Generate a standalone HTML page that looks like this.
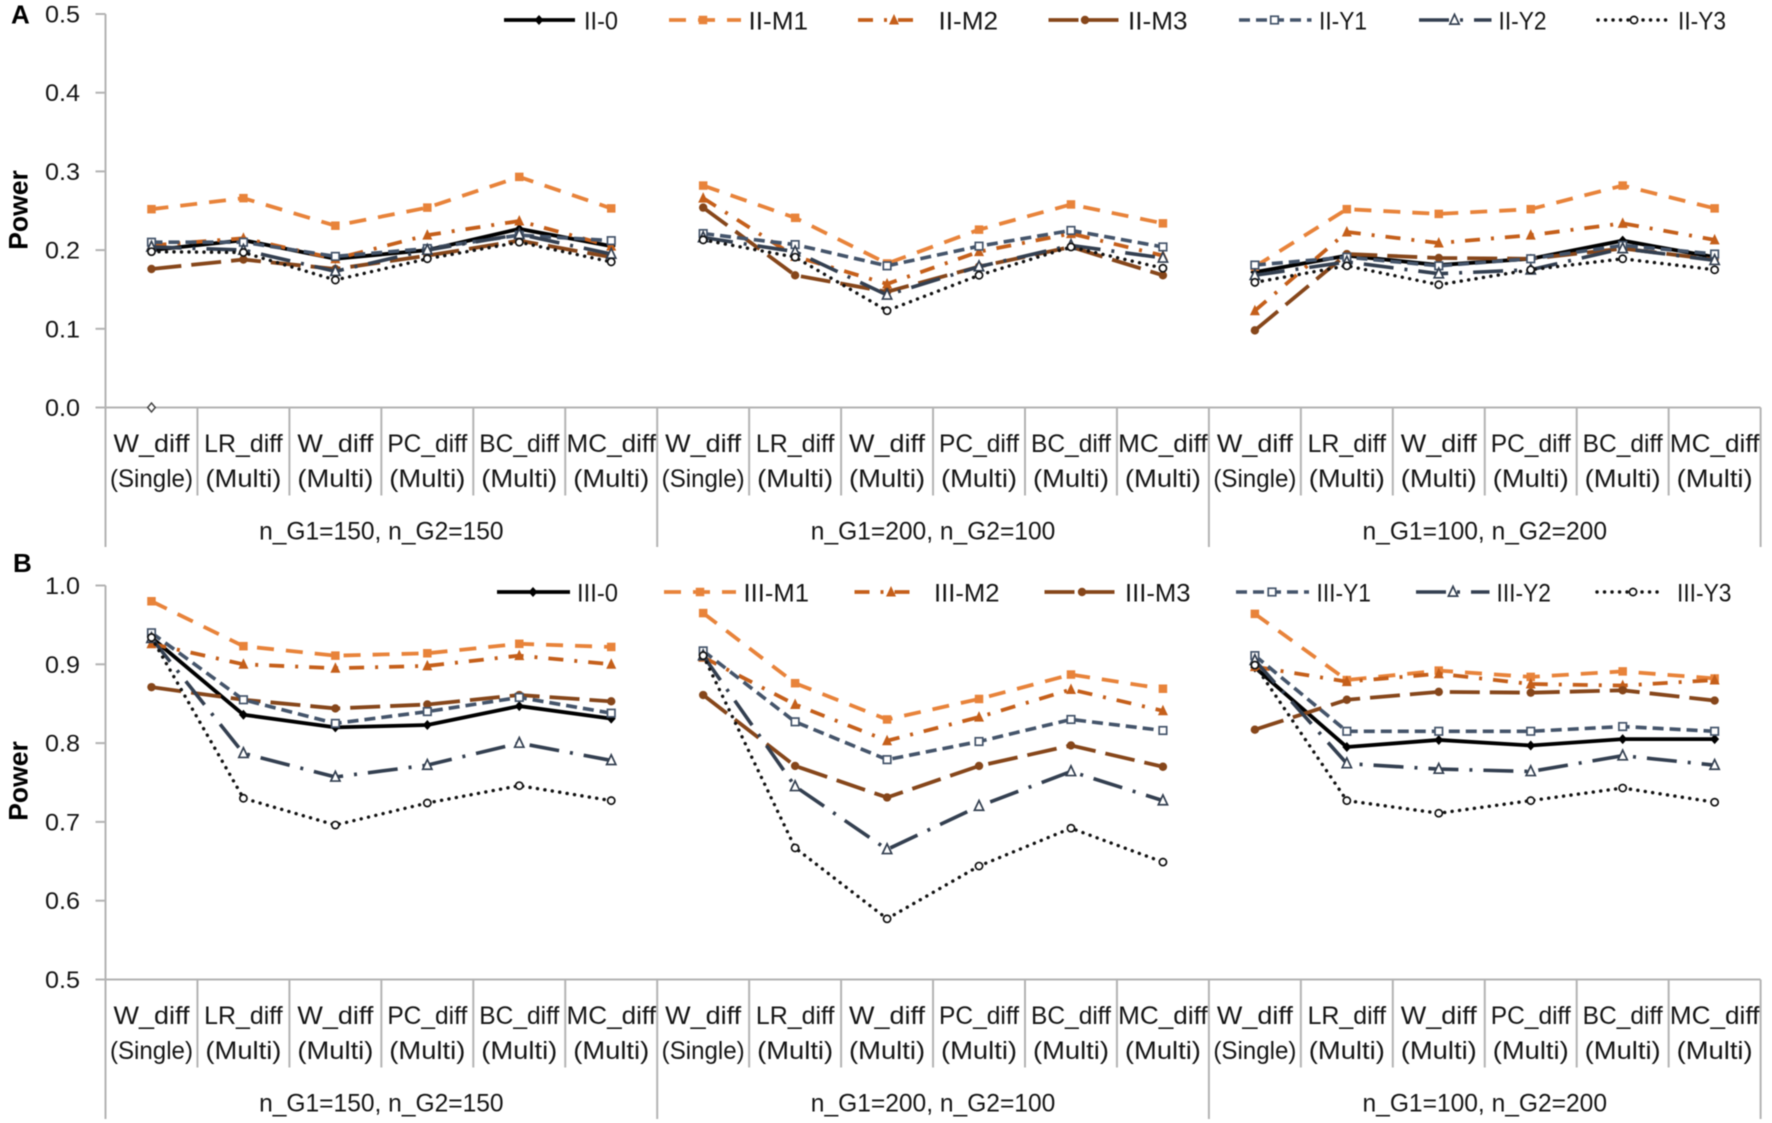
<!DOCTYPE html>
<html lang="en">
<head>
<meta charset="utf-8">
<title>Power by test statistic and group size</title>
<style>
html,body{margin:0;padding:0;background:#fff;width:1772px;height:1123px;overflow:hidden}
#figure{display:block;filter:blur(0.55px)}
text{font-family:"Liberation Sans",sans-serif;fill:#151515}
</style>
</head>
<body>
<svg id="figure" xmlns="http://www.w3.org/2000/svg" width="1772" height="1123" viewBox="0 0 1772 1123">
  <text x="11" y="23.5" font-size="26" font-weight="bold" style="fill:#000">A</text>
  <text x="13" y="572" font-size="26" font-weight="bold" style="fill:#000">B</text>
  <text transform="translate(27.5,210) rotate(-90)" text-anchor="middle" font-size="26.5" font-weight="bold" style="fill:#000">Power</text>
  <text transform="translate(27.5,781) rotate(-90)" text-anchor="middle" font-size="26.5" font-weight="bold" style="fill:#000">Power</text>
  <g id="panel-a"></g>
  <g id="panel-b"></g>
</svg>
<script>
// ---------- shared categories ----------
const categoryLine1 = ['W_diff','LR_diff','W_diff','PC_diff','BC_diff','MC_diff'];
const categoryLine2 = ['(Single)','(Multi)','(Multi)','(Multi)','(Multi)','(Multi)'];
const groupLabels = ['n_G1=150, n_G2=150','n_G1=200, n_G2=100','n_G1=100, n_G2=200'];

// ---------- panel A values ----------
const panelATicks = ['0.0','0.1','0.2','0.3','0.4','0.5'];
const panelADomain = [0, 0.5];
const ii0  = [.200,.2125,.189,.200,.227,.205, .214,null,null,null,null,null, .172,.193,.181,.189,.212,.191];
const iiM1 = [.252,.266,.231,.254,.293,.253, .282,.241,.183,.226,.258,.234, .179,.252,.246,.252,.282,.253];
const iiM2 = [.206,.215,.189,.219,.237,.205, .266,.192,.157,.198,.221,.193, .123,.223,.209,.219,.234,.213];
const iiM3 = [.176,.188,.176,.193,.212,.191, .254,.168,.147,.179,.204,.168, .098,.195,.190,.189,.202,.188];
const iiY1 = [.210,.210,.192,.202,.219,.212, .221,.207,.180,.205,.225,.204, .181,.191,.180,.189,.206,.195];
const iiY2 = [.204,.200,.173,.200,.220,.195, .216,.198,.143,.179,.206,.190, .168,.185,.170,.175,.202,.187];
const iiY3 = [.198,.197,.162,.189,.210,.185, .213,.191,.123,.168,.204,.177, .159,.180,.156,.175,.189,.175];
const iiStray = [0];

// ---------- panel B values ----------
const panelBTicks = ['0.5','0.6','0.7','0.8','0.9','1.0'];
const panelBDomain = [0.5, 1];
const iii0  = [.934,.836,.820,.823,.847,.831, .911,null,null,null,null,null, .896,.795,.804,.797,.805,.805];
const iiiM1 = [.980,.923,.911,.914,.926,.922, .965,.876,.830,.856,.887,.869, .964,.880,.892,.884,.891,.882];
const iiiM2 = [.926,.900,.895,.898,.911,.900, .909,.849,.803,.833,.868,.841, .897,.878,.888,.875,.873,.880];
const iiiM3 = [.871,.855,.844,.849,.861,.853, .861,.771,.731,.771,.797,.770, .817,.855,.865,.864,.867,.854];
const iiiY1 = [.940,.855,.825,.840,.858,.838, .917,.827,.779,.802,.830,.816, .911,.815,.815,.815,.821,.815];
const iiiY2 = [.933,.787,.757,.772,.800,.778, .911,.745,.665,.720,.764,.727, .905,.774,.767,.764,.784,.772];
const iiiY3 = [.934,.730,.696,.724,.746,.727, .911,.667,.577,.644,.692,.649, .899,.727,.711,.727,.743,.725];

// ---------- layout ----------
const SVGNS = 'http://www.w3.org/2000/svg';
const AXIS_LEFT = 105.5, CAT_W = 91.95, PER_GROUP = 6;
const AXIS_COLOR = '#b3b3b3';
const inkWidths = {'W_diff':76,'LR_diff':78.5,'PC_diff':80,'BC_diff':80,'MC_diff':89.5,'(Single)':83,'(Multi)':76,
  'n_G1=150, n_G2=150':244.5,'n_G1=200, n_G2=100':244.5,'n_G1=100, n_G2=200':244.5,
  'II-0':34,'II-M1':59.5,'II-M2':59.5,'II-M3':59.5,'II-Y1':48,'II-Y2':48,'II-Y3':48,
  'III-0':41,'III-M1':65.5,'III-M2':65.5,'III-M3':65.5,'III-Y1':54.5,'III-Y2':54.5,'III-Y3':54.5};
const styles = {
  zero:{color:'#000000',width:3.8,dash:null,cap:'butt',marker:'diamond'},
  m1:{color:'#e8833a',width:3.8,dash:'17 12',cap:'butt',marker:'square'},
  m2:{color:'#c55f1a',width:3.8,dash:'15 11 3 11',cap:'butt',marker:'triangle'},
  m3:{color:'#86461a',width:3.8,dash:'30 10',cap:'butt',marker:'circle'},
  y1:{color:'#44546a',width:3.6,dash:'11 6',cap:'butt',marker:'hollow-square'},
  y2:{color:'#333f50',width:3.6,dash:'30 11 3 11',cap:'butt',marker:'hollow-triangle'},
  y3:{color:'#111111',width:3.4,dash:'0.1 7.4',cap:'round',marker:'hollow-circle'}
};

function xAt(i){ return AXIS_LEFT + CAT_W * (i + 0.5); }
function yScale(panel, v){
  return panel.y0 + (v - panel.domain[0]) / (panel.domain[1] - panel.domain[0]) * (panel.yTop - panel.y0);
}
function make(tag, attrs, parent){
  const el = document.createElementNS(SVGNS, tag);
  for (const k in attrs) el.setAttribute(k, attrs[k]);
  parent.appendChild(el);
  return el;
}
function axisLine(parent, x1, y1, x2, y2, name){
  const el = make('line', {x1:x1, y1:y1, x2:x2, y2:y2, stroke:AXIS_COLOR, 'stroke-width':2}, parent);
  
  
  return el;
}
function label(parent, str, x, y, size, anchor, width, name){
  const el = make('text', {x:x, y:y, 'font-size':size, 'text-anchor':anchor}, parent);
  if (width) { el.setAttribute('textLength', width); el.setAttribute('lengthAdjust', 'spacingAndGlyphs'); }
  el.textContent = str;
  
  
  return el;
}
function marker(parent, kind, x, y, color, name){
  let el;
  const hollow = kind.indexOf('hollow') === 0;
  const fill = hollow ? '#ffffff' : color;
  const common = {fill:fill, stroke: hollow ? color : 'none', 'stroke-width': hollow ? 1.7 : 0};
  if (kind === 'diamond') {
    el = make('path', Object.assign({d:'M'+x+' '+(y-5)+'L'+(x+4.5)+' '+y+'L'+x+' '+(y+5)+'L'+(x-4.5)+' '+y+'Z'}, common), parent);
  } else if (kind === 'square' || kind === 'hollow-square') {
    const s = hollow ? 7.5 : 8.5;
    el = make('rect', Object.assign({x:x-s/2, y:y-s/2, width:s, height:s}, common), parent);
  } else if (kind === 'triangle' || kind === 'hollow-triangle') {
    const r = hollow ? 4.6 : 5;
    el = make('path', Object.assign({d:'M'+x+' '+(y-r-1)+'L'+(x+r)+' '+(y+r-0.5)+'L'+(x-r)+' '+(y+r-0.5)+'Z'}, common), parent);
  } else {
    el = make('circle', Object.assign({cx:x, cy:y, r: hollow ? 3.6 : 4.2}, common), parent);
  }
  
  
  return el;
}
function drawSeries(parent, panel, key, values, styleKey){
  const st = styles[styleKey];
  const g = make('g', {}, parent);
  
  
  let d = '';
  values.forEach(function(v, i){
    if (v === null) return;
    const prev = i > 0 ? values[i-1] : null;
    const start = prev === null || i % PER_GROUP === 0;
    d += (start ? 'M' : 'L') + xAt(i).toFixed(2) + ' ' + yScale(panel, v).toFixed(2);
  });
  const line = make('path', {d:d, fill:'none', stroke:st.color, 'stroke-width':st.width, 'stroke-linejoin':'round', 'stroke-linecap':st.cap}, g);
  if (st.dash) line.setAttribute('stroke-dasharray', st.dash);
  
  
  values.forEach(function(v, i){
    if (v === null) return;
    marker(g, st.marker, xAt(i), yScale(panel, v), st.color, 'point-' + key + '-' + i);
  });
}
function drawAxes(parent, panel){
  const zero = panel.y0;
  axisLine(parent, AXIS_LEFT, panel.yTop, AXIS_LEFT, zero + 139.5, panel.id + '-y-axis');
  axisLine(parent, 95.5, zero, 1760.6, zero, panel.id + '-x-axis');
  panel.ticks.forEach(function(t){
    const v = parseFloat(t), y = yScale(panel, v);
    axisLine(parent, 95.5, y, AXIS_LEFT, y, panel.id + '-y-tick-' + t);
    label(parent, t, 45, y + 8.5, 24, 'start', 35, panel.id + '-y-tick-label-' + t);
  });
  groupLabels.forEach(function(gl, g){
    for (let c = 0; c < PER_GROUP; c++) {
      const i = g * PER_GROUP + c, right = AXIS_LEFT + CAT_W * (i + 1);
      const isGroupEnd = c === PER_GROUP - 1;
      axisLine(parent, right, zero, right, zero + (isGroupEnd ? 139.5 : 88), panel.id + (isGroupEnd ? '-group-divider-' : '-category-divider-') + i);
      label(parent, categoryLine1[c], xAt(i), zero + 44.5, 25, 'middle', inkWidths[categoryLine1[c]], panel.id + '-category-label-' + i);
      label(parent, categoryLine2[c], xAt(i), zero + 79.5, 25, 'middle', inkWidths[categoryLine2[c]], panel.id + '-category-sublabel-' + i);
    }
    label(parent, gl, AXIS_LEFT + CAT_W * PER_GROUP * (g + 0.5), zero + 132, 25, 'middle', inkWidths[gl], panel.id + '-group-label-' + g);
  });
}
function legendEntry(parent, y, text, styleKey, x0, x1, xm, xt){
  const st = styles[styleKey];
  const g = make('g', {}, parent);
  
  
  const sw = make('path', {d:'M'+x0+' '+y+'L'+x1+' '+y, fill:'none', stroke:st.color, 'stroke-width':st.width, 'stroke-linecap':st.cap}, g);
  if (st.dash) sw.setAttribute('stroke-dasharray', st.dash);
  
  
  marker(g, st.marker, xm, y, st.color, 'legend-marker-' + text.toLowerCase());
  label(g, text, xt, y + 9.5, 25, 'start', inkWidths[text], 'legend-label-' + text.toLowerCase());
}

// ---------- panel A ----------
const panelA = {id:'panel-a', y0:407.5, yTop:14, domain:panelADomain, ticks:panelATicks};
const gA = document.getElementById('panel-a');
drawAxes(gA, panelA);
drawSeries(gA, panelA, 'ii-0', ii0, 'zero');
drawSeries(gA, panelA, 'ii-m1', iiM1, 'm1');
drawSeries(gA, panelA, 'ii-m2', iiM2, 'm2');
drawSeries(gA, panelA, 'ii-m3', iiM3, 'm3');
drawSeries(gA, panelA, 'ii-y1', iiY1, 'y1');
drawSeries(gA, panelA, 'ii-y2', iiY2, 'y2');
drawSeries(gA, panelA, 'ii-y3', iiY3, 'y3');
iiStray.forEach(function(v, i){
  const s = make('path', {d:'M'+xAt(i)+' '+(yScale(panelA,v)-4.5)+'L'+(xAt(i)+3.8)+' '+yScale(panelA,v)+'L'+xAt(i)+' '+(yScale(panelA,v)+4.5)+'L'+(xAt(i)-3.8)+' '+yScale(panelA,v)+'Z', fill:'#fff', stroke:'#444', 'stroke-width':1.5}, gA);
  
  
});
legendEntry(gA, 20, 'II-0', 'zero', 504, 575, 539, 584);
legendEntry(gA, 20, 'II-M1', 'm1', 669, 741, 703, 748.5);
legendEntry(gA, 20, 'II-M2', 'm2', 858, 918, 894, 938.5);
legendEntry(gA, 20, 'II-M3', 'm3', 1048.5, 1121, 1085, 1128);
legendEntry(gA, 20, 'II-Y1', 'y1', 1239, 1311.5, 1274.5, 1319);
legendEntry(gA, 20, 'II-Y2', 'y2', 1419, 1491.5, 1454.5, 1498.5);
legendEntry(gA, 20, 'II-Y3', 'y3', 1598, 1666, 1634, 1678);

// ---------- panel B ----------
const panelB = {id:'panel-b', y0:979.5, yTop:585.5, domain:panelBDomain, ticks:panelBTicks};
const gB = document.getElementById('panel-b');
drawAxes(gB, panelB);
drawSeries(gB, panelB, 'iii-0', iii0, 'zero');
drawSeries(gB, panelB, 'iii-m1', iiiM1, 'm1');
drawSeries(gB, panelB, 'iii-m2', iiiM2, 'm2');
drawSeries(gB, panelB, 'iii-m3', iiiM3, 'm3');
drawSeries(gB, panelB, 'iii-y1', iiiY1, 'y1');
drawSeries(gB, panelB, 'iii-y2', iiiY2, 'y2');
drawSeries(gB, panelB, 'iii-y3', iiiY3, 'y3');
legendEntry(gB, 592, 'III-0', 'zero', 497, 570, 533, 577);
legendEntry(gB, 592, 'III-M1', 'm1', 664, 736, 700, 743.5);
legendEntry(gB, 592, 'III-M2', 'm2', 854.5, 914, 891, 934);
legendEntry(gB, 592, 'III-M3', 'm3', 1044.5, 1118.5, 1082, 1125);
legendEntry(gB, 592, 'III-Y1', 'y1', 1236, 1309, 1272, 1316.5);
legendEntry(gB, 592, 'III-Y2', 'y2', 1416, 1489.5, 1453, 1496.5);
legendEntry(gB, 592, 'III-Y3', 'y3', 1597, 1664, 1633, 1677);
</script>
</body>
</html>
